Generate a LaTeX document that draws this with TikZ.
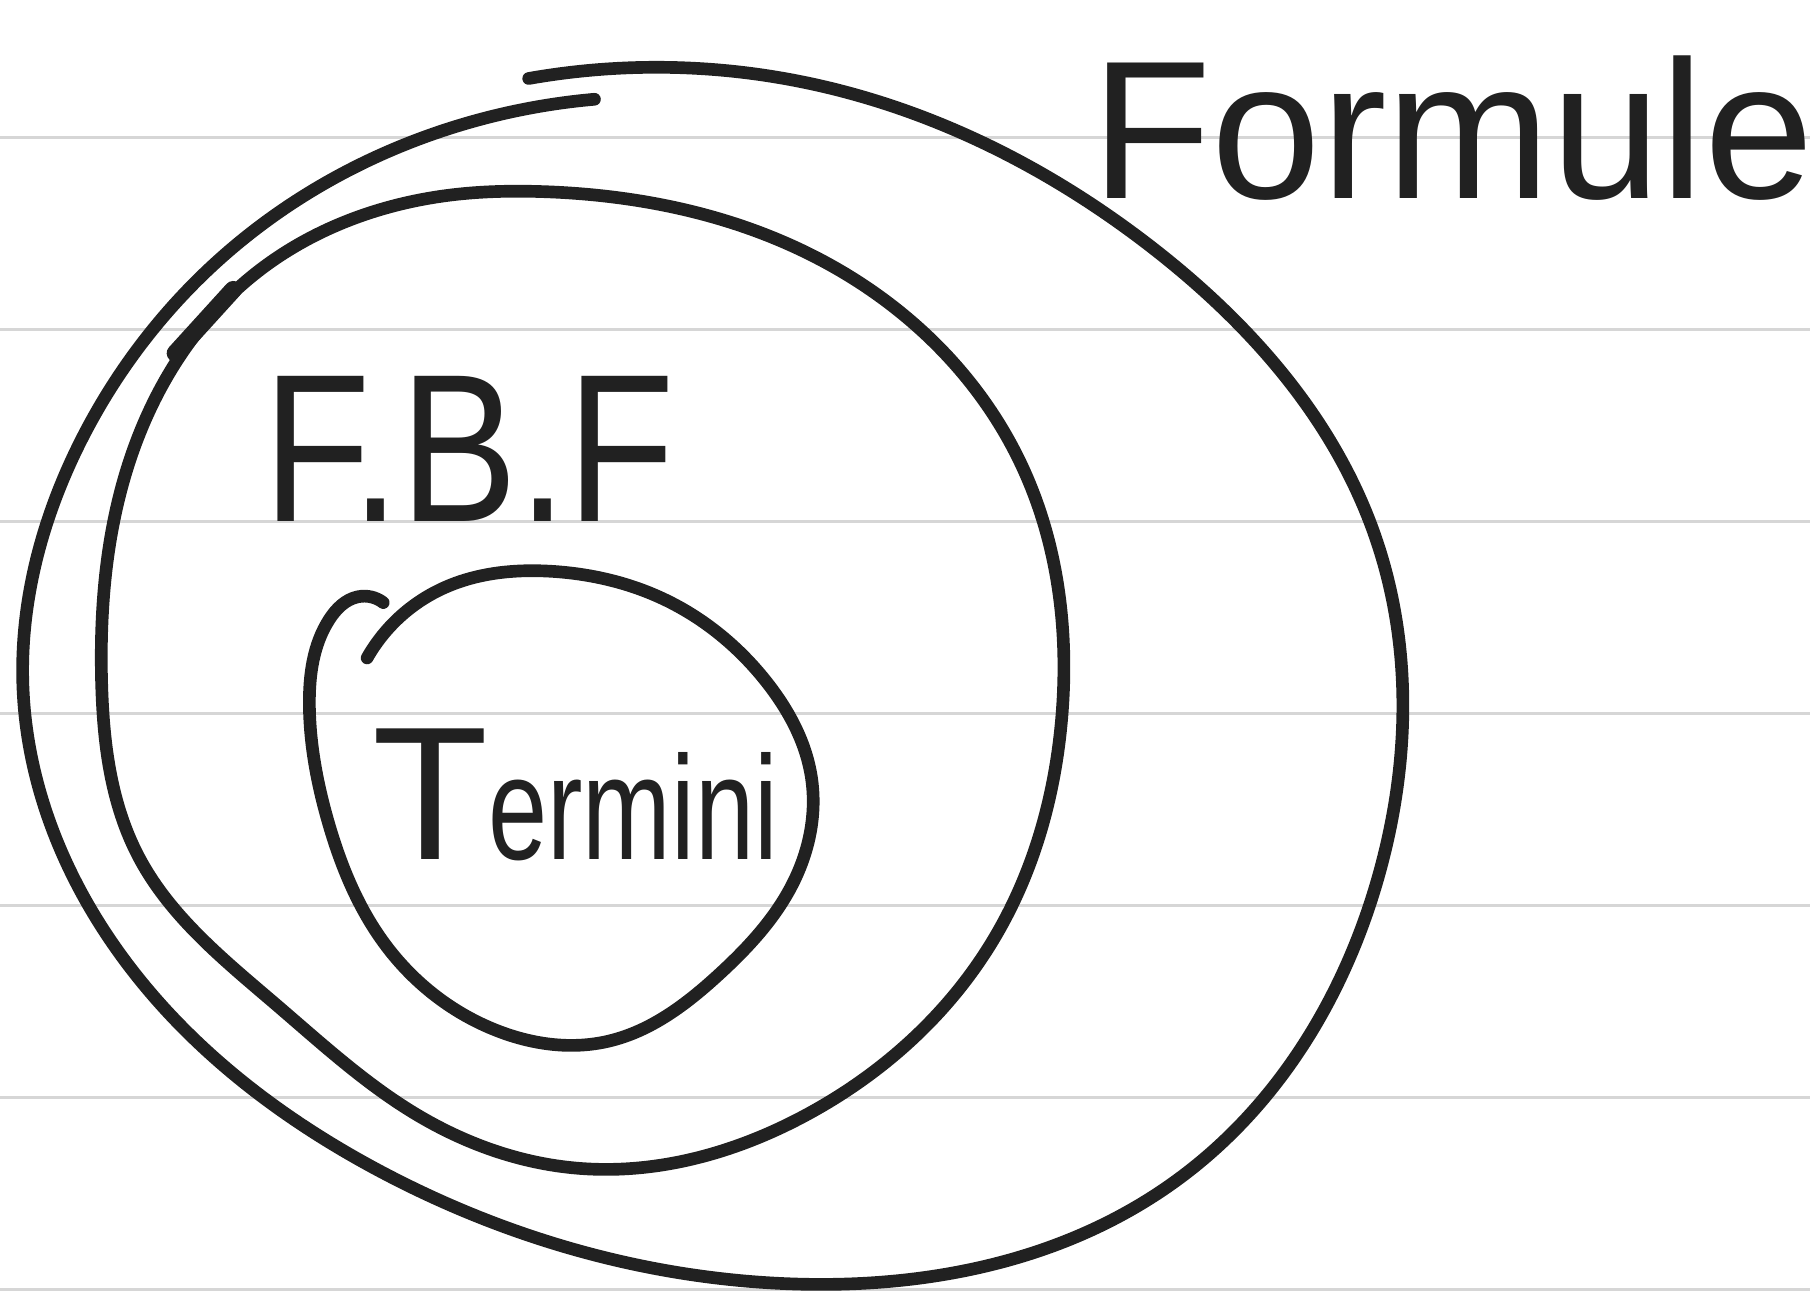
\documentclass[tikz,border=0pt]{standalone}
\usepackage{fontspec}
\usepackage{graphicx}
\usetikzlibrary{hobby}
\setmainfont{Liberation Sans}
\begin{document}
\begin{tikzpicture}[x=0.011543cm,y=-0.011543cm,
  ink/.style={draw=black!87,line width=3.6pt,line cap=round,line join=round},
  rule/.style={draw=black!16,line width=0.9pt},
  lbl/.style={inner sep=0pt,text=black!87}]
\fill[white] (0,0) rectangle (1568,1129);
\useasboundingbox (0,0) rectangle (1568,1129);
% ruled paper
\foreach \k in {0,...,6} {
  \draw[rule] (0,{119+166.4*\k}) -- (1568,{119+166.4*\k});
}
% outer set: Formule (one open stroke, ends overlapping at the top)
\draw[ink,use Hobby shortcut] (458,68) .. (700,72) .. (1000,216) .. (1190,461)
  .. (1195,756) .. (1020,1022) .. (680,1112) .. (330,1015) .. (90,806)
  .. (20,598) .. (70,382) .. (200,216) .. (400,108) .. (515,86);
% middle set: F.B.F
\draw[ink,use Hobby shortcut,closed=true] (470,166) .. (720,230) .. (885,403)
  .. (920,619) .. (860,815) .. (700,965) .. (500,1012) .. (360,965) .. (240,871)
  .. (120,742) .. (88,590) .. (112,400) .. (215,242) .. (390,169);
\draw[ink,line width=5pt] (152,306) -- (202,251);
% inner set: Termini (open stroke)
\draw[ink,use Hobby shortcut] (318,570) .. (383,510) .. (479,495) .. (575,519)
  .. (665,592) .. (703,674) .. (687,765) .. (623,844) .. (527,902) .. (431,893)
  .. (335,820) .. (284,711) .. (268,610) .. (285,537) .. (310,517) .. (332,522);
% labels
\node[lbl,anchor=base west,font=\fontsize{56}{60}\selectfont] (formule) at (945,172) {Formule};
\node[lbl,anchor=base west,font=\fontsize{50}{56}\selectfont,yscale=1.2] (fbf) at (228,452) {F.B.F};
\node[lbl,anchor=base west] (termini) at (322,745)
  {{\fontsize{54}{58}\selectfont T}\scalebox{0.72}[1]{\fontsize{42}{46}\selectfont ermini}};
\end{tikzpicture}
\end{document}
